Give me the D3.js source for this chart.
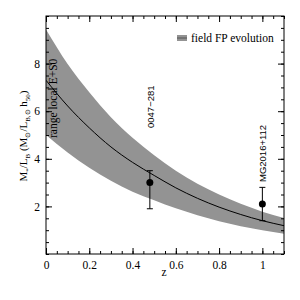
<!DOCTYPE html>
<html>
<head>
<meta charset="utf-8">
<script src="https://cdn.jsdelivr.net/npm/d3@7"></script>
<style>
  body { margin: 0; background: #fff; }
  text { font-family: "Liberation Serif", "Times New Roman", serif; fill: #000; }
  .sans { font-family: "Liberation Sans", Arial, sans-serif; }
</style>
</head>
<body>
<script>
// values
var zGrid     = [0, 0.1, 0.2, 0.3, 0.4, 0.5, 0.6, 0.7, 0.8, 0.9, 1.0, 1.1];
var bandUpper = [9.43, 7.98, 6.80, 5.75, 4.88, 4.15, 3.50, 2.95, 2.50, 2.11, 1.78, 1.51];
var bandLower = [5.00, 4.26, 3.62, 3.08, 2.62, 2.26, 1.92, 1.63, 1.38, 1.17, 1.00, 0.85];
var fitLine   = [7.30, 6.22, 5.30, 4.50, 3.85, 3.30, 2.78, 2.34, 1.97, 1.66, 1.40, 1.19];

var clusterNames = ["0047\u2212281", "MG2016+112"];
var clusterZ     = [0.48, 1.0];
var clusterML    = [3.0, 2.1];
var clusterLo    = [1.9, 1.4];
var clusterHi    = [3.5, 2.8];

var xMajor = [0, 0.2, 0.4, 0.6, 0.8, 1];
var yMajor = [2, 4, 6, 8];

var width = 300,
    height = 300;
var margin = {left: 46, top: 16, right: 16, bottom: 46};

var svg = d3.select("body")
            .append("svg")
            .attr("width", width)
            .attr("height", height);

var x = d3.scaleLinear().domain([0, 1.1]).range([margin.left, width - margin.right]);
var y = d3.scaleLinear().domain([0, 10]).range([height - margin.bottom, margin.top]);

var rows = zGrid.map(function(z, i) {
    return {z: z, lo: bandLower[i], hi: bandUpper[i], fit: fitLine[i]};
});

var band = d3.area()
             .x(d => x(d.z))
             .y0(d => y(d.lo))
             .y1(d => y(d.hi))
             .curve(d3.curveMonotoneX);

var line = d3.line()
             .x(d => x(d.z))
             .y(d => y(d.fit))
             .curve(d3.curveMonotoneX);

svg.append("clipPath").attr("id", "clip")
   .append("rect")
   .attr("x", x(0)).attr("y", y(10))
   .attr("width", x(1.1) - x(0)).attr("height", y(0) - y(10));

var plot = svg.append("g").attr("clip-path", "url(#clip)");

plot.append("path")
    .datum(rows)
    .attr("fill", "#939393")
    .attr("d", band);

plot.append("path")
    .datum(rows)
    .attr("fill", "none")
    .attr("stroke", "#000")
    .attr("stroke-width", 1)
    .attr("d", line);

// axes, ticks pointing inward
var xMinor = d3.range(0, 1.1001, 0.05);
var yMinor = d3.range(0, 10.001, 0.5);

function styleAxis(g) {
    g.select(".domain").remove();
    g.selectAll("line").attr("stroke", "#000");
    g.selectAll("text")
     .style("font-family", "Liberation Serif, serif")
     .style("font-size", "11.5px");
}

svg.append("g")
   .attr("transform", "translate(0," + y(0) + ")")
   .call(d3.axisBottom(x).tickValues(xMinor).tickSize(-3).tickFormat(""))
   .call(styleAxis);
svg.append("g")
   .attr("transform", "translate(0," + y(0) + ")")
   .call(d3.axisBottom(x).tickValues(xMajor).tickSize(-6).tickPadding(7)
           .tickFormat(d => d === 0 ? "0" : d === 1 ? "1" : d3.format(".1f")(d)))
   .call(styleAxis);
svg.append("g")
   .attr("transform", "translate(0," + y(10) + ")")
   .call(d3.axisTop(x).tickValues(xMinor).tickSize(-3).tickFormat(""))
   .call(styleAxis);
svg.append("g")
   .attr("transform", "translate(0," + y(10) + ")")
   .call(d3.axisTop(x).tickValues(xMajor).tickSize(-6).tickFormat(""))
   .call(styleAxis);

svg.append("g")
   .attr("transform", "translate(" + x(0) + ",0)")
   .call(d3.axisLeft(y).tickValues(yMinor).tickSize(-3).tickFormat(""))
   .call(styleAxis);
svg.append("g")
   .attr("transform", "translate(" + x(0) + ",0)")
   .call(d3.axisLeft(y).tickValues(yMajor).tickSize(-6).tickPadding(6).tickFormat(d3.format("d")))
   .call(styleAxis);
svg.append("g")
   .attr("transform", "translate(" + x(1.1) + ",0)")
   .call(d3.axisRight(y).tickValues(yMinor).tickSize(-3).tickFormat(""))
   .call(styleAxis);
svg.append("g")
   .attr("transform", "translate(" + x(1.1) + ",0)")
   .call(d3.axisRight(y).tickValues(yMajor).tickSize(-6).tickFormat(""))
   .call(styleAxis);

svg.append("rect")
   .attr("x", x(0)).attr("y", y(10))
   .attr("width", x(1.1) - x(0)).attr("height", y(0) - y(10))
   .attr("fill", "none")
   .attr("stroke", "#000")
   .attr("stroke-width", 1);

// cluster points with error bars
var labelBottom = [128, 182];   // where each rotated name ends, px
var pts = svg.append("g");
clusterZ.forEach(function(z, i) {
    var cx = x(z);
    pts.append("line")
       .attr("x1", cx).attr("x2", cx)
       .attr("y1", y(clusterLo[i])).attr("y2", y(clusterHi[i]))
       .attr("stroke", "#000");
    [clusterLo[i], clusterHi[i]].forEach(function(v) {
        pts.append("line")
           .attr("x1", cx - 3).attr("x2", cx + 3)
           .attr("y1", y(v)).attr("y2", y(v))
           .attr("stroke", "#000");
    });
    pts.append("circle")
       .attr("cx", cx).attr("cy", y(clusterML[i]))
       .attr("r", 3.5)
       .attr("fill", "#000");
    pts.append("text")
       .attr("class", "sans")
       .attr("transform", "translate(" + (cx + 4) + "," + labelBottom[i] + ") rotate(-90)")
       .style("font-size", "9.5px")
       .text(clusterNames[i]);
});

// vertical note in the band
svg.append("text")
   .attr("transform", "translate(" + (x(0) + 11) + "," + 138 + ") rotate(-90)")
   .style("font-size", "11.5px")
   .text("range local E+S0");

// legend
var lg = svg.append("g");
lg.append("rect")
  .attr("x", 177).attr("y", 35)
  .attr("width", 10).attr("height", 6)
  .attr("fill", "#939393");
lg.append("line")
  .attr("x1", 177).attr("x2", 187)
  .attr("y1", 38).attr("y2", 38)
  .attr("stroke", "#555");
lg.append("text")
  .attr("x", 191).attr("y", 41.5)
  .style("font-size", "11.5px")
  .text("field FP evolution");

// axis titles
svg.append("text")
   .attr("x", x(0.546)).attr("y", 276)
   .attr("text-anchor", "middle")
   .style("font-size", "11.5px")
   .text("z");

var yl = svg.append("text")
   .attr("transform", "translate(27," + 136 + ") rotate(-90)")
   .attr("text-anchor", "middle")
   .style("font-size", "11px");
yl.append("tspan").text("M");
yl.append("tspan").attr("dy", 2.5).style("font-size", "7px").text("*");
yl.append("tspan").attr("dy", -2.5).text("/L");
yl.append("tspan").attr("dy", 2.5).style("font-size", "7px").text("B");
yl.append("tspan").attr("dy", -2.5).text(" (M");
yl.append("tspan").attr("dy", 2.5).style("font-size", "7px").text("\u2299");
yl.append("tspan").attr("dy", -2.5).text("/L");
yl.append("tspan").attr("dy", 2.5).style("font-size", "7px").text("B,\u2299");
yl.append("tspan").attr("dy", -2.5).text(" h");
yl.append("tspan").attr("dy", 2.5).style("font-size", "7px").text("50");
yl.append("tspan").attr("dy", -2.5).text(")");
</script>
</body>
</html>
